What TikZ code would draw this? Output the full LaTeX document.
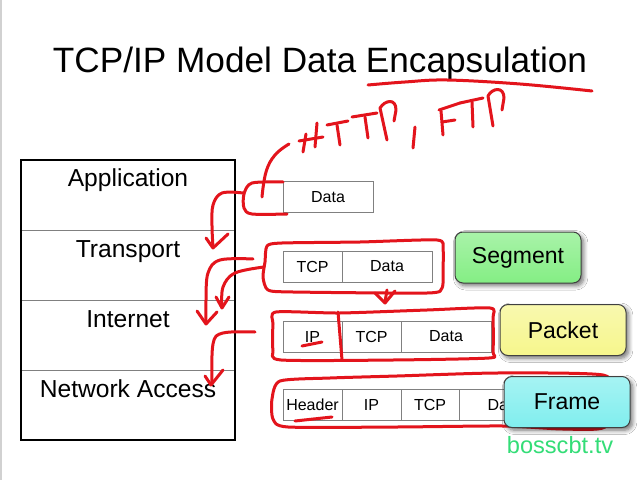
\documentclass[tikz,border=0pt]{standalone}
\usepackage{fontspec}
\setmainfont{Liberation Sans}
\usetikzlibrary{shadows.blur}
\definecolor{ink}{HTML}{E3141C}
\definecolor{cellgray}{HTML}{808080}
\definecolor{segfill}{HTML}{84EE84}
\definecolor{pktfill}{HTML}{F6F68C}
\definecolor{frmfill}{HTML}{80EEEE}
\definecolor{brand}{HTML}{33DD77}
\begin{document}
\begin{tikzpicture}[x=0.5pt,y=-0.5pt,
  layer/.style={draw=cellgray, line width=0.5pt, minimum width=107pt, minimum height=35pt, inner sep=0pt, outer sep=0pt},
  layertext/.style={anchor=base, font=\fontsize{12.3}{14}\selectfont},
  cell/.style={draw=cellgray, line width=0.5pt, minimum height=15.5pt, inner sep=0pt, outer sep=0pt, font=\fontsize{8}{9.6}\selectfont},
  narrow/.style={cell, minimum width=29.5pt},
  wide/.style={cell, minimum width=45pt},
  tag/.style={draw=black!75, line width=0.5pt, rounded corners=4pt, minimum width=63pt, minimum height=25.5pt, inner sep=0pt,
    font=\fontsize{11.5}{13}\selectfont,
    blur shadow={shadow xshift=1.3pt, shadow yshift=-1.4pt, shadow blur steps=6, shadow opacity=55}},
  pen/.style={draw=ink, line width=1.5pt, line cap=round, line join=round}]
\useasboundingbox (0,0) rectangle (640,480);
\fill[white] (0,0) rectangle (640,480);
\draw[black!18, line width=1pt] (1,0) -- (1,480);

% title
\node[anchor=base, font=\fontsize{17.6}{20}\selectfont] (title) at (320,73) {TCP/IP Model Data Encapsulation};

% layer column
\node[layer] (rowA) at (128,195) {};
\node[layer] (rowT) at (128,265) {};
\node[layer] (rowI) at (128,335) {};
\node[layer] (rowN) at (128,405) {};
\draw[black, line width=0.8pt] (rowA.north west) rectangle (rowN.south east);
\node[layertext] (labA) at (128,187) {Application};
\node[layertext] (labT) at (128,257) {Transport};
\node[layertext] (labI) at (128,327) {Internet};
\node[layertext] (labN) at (128,397) {Network Access};

% application data
\node[wide] (aData) at (328,197.5) {Data};
% segment
\node[narrow] (tTCP) at (312.5,266.5) {TCP};
\node[wide] (tData) at (387,266.5) {Data};
% packet
\node[narrow] (iIP) at (312.5,336.5) {IP};
\node[narrow] (iTCP) at (371.5,336.5) {TCP};
\node[wide] (iData) at (446,336.5) {Data};
% frame
\node[narrow] (nHdr) at (312.5,405) {Header};
\node[narrow] (nIP) at (371.5,405) {IP};
\node[cell, minimum width=29pt] (nTCP) at (430,405) {TCP};
\node[cell, minimum width=45.5pt] (nData) at (504.5,405) {Data};

% unit names
\node[tag, top color=segfill!70!white, bottom color=segfill] (seg) at (518,257.5) {Segment};
\node[tag, top color=pktfill!70!white, bottom color=pktfill] (pkt) at (563,330) {Packet};

% pen annotations
\draw[pen] plot[smooth, tension=0.6] coordinates {(368,85) (405,82) (447,80) (520,84) (592,91)};
% HTTP, FTP
\draw[pen] (306,134) -- (303,152);
\draw[pen] (317,123) -- (315,147);
\draw[pen] (299,141) -- (323,137);
\draw[pen] (327,125) -- (348,121);
\draw[pen] (337,125) -- (340,145);
\draw[pen] (352,117) -- (377,113);
\draw[pen] (365,117) -- (368,138);
\draw[pen] (387,140) -- (380,108) .. controls (385,100) and (396,98) .. (396,110) -- (394,121);
\draw[pen] (415,127) -- (413,148);
\draw[pen] (443,135) -- (441,111);
\draw[pen] (439,110) -- (460,103);
\draw[pen] (442,122) -- (455,120);
\draw[pen] (460,103) -- (483,98);
\draw[pen] (472,102) -- (473,127);
\draw[pen] (493,126) -- (488,96) .. controls (492,88) and (504,86) .. (504,98) -- (502,110);
% bracket to the application data
\draw[pen] plot[smooth, tension=0.7] coordinates {(289,144) (275,155) (266,172) (262,197)};
\draw[pen] plot[smooth, tension=0.5] coordinates {(283,182) (252,183) (244,194) (244,208) (252,214) (287,214)};
% application -> transport
\draw[pen] plot[smooth, tension=0.6] coordinates {(243,193) (222,193) (213,205) (212,226) (213,247)};
\draw[pen] (206,238) -- (213,248) -- (228,234);
% transport -> internet
\draw[pen] plot[smooth, tension=0.6] coordinates {(253,259) (220,260) (208,273) (206,300) (206,322)};
\draw[pen] (197,311) -- (206,324) -- (217,312);
\draw[pen] plot[smooth, tension=0.6] coordinates {(264,267) (235,273) (223,287) (222,307)};
\draw[pen] (216,297) -- (222,308) -- (229,297);
% segment loop
\draw[pen] plot[smooth cycle, tension=0.4] coordinates {(265,262) (267,246) (282,243) (360,242) (437,240) (443,249) (443,270) (442,288) (427,293) (293,292) (268,290) (263,277)};
\draw[pen] (387,290) -- (385,302);
\draw[pen] (375,293) -- (385,303) -- (395,291);
% packet loop
\draw[pen] plot[smooth cycle, tension=0.4] coordinates {(276,312) (340,313) (427,310) (490,308) (493,318) (493,352) (489,358) (393,360) (281,360) (273,350) (273,324)};
\draw[pen] plot[smooth, tension=0.5] coordinates {(338,312) (340,336) (342,360)};
\draw[pen] (302,346) -- (322,342);
% internet -> network access
\draw[pen] plot[smooth, tension=0.6] coordinates {(255,332) (223,333) (213,344) (212,383)};
\draw[pen] (205,376) -- (211,385) -- (223,370);
% frame loop
\draw[pen] plot[smooth cycle, tension=0.4] coordinates {(280,381) (330,378) (397,376) (497,373) (603,375) (612,395) (605,427) (563,429) (503,426) (397,427) (288,427) (273,419) (272,399)};
\draw[pen] (295,421) -- (332,417);

% frame tag sits over the ink
\node[tag, top color=frmfill!70!white, bottom color=frmfill] (frm) at (567,402) {Frame};

\node[anchor=base, text=brand, font=\fontsize{11.8}{13}\selectfont] (brandtext) at (560,453) {bosscbt.tv};
\end{tikzpicture}
\end{document}
